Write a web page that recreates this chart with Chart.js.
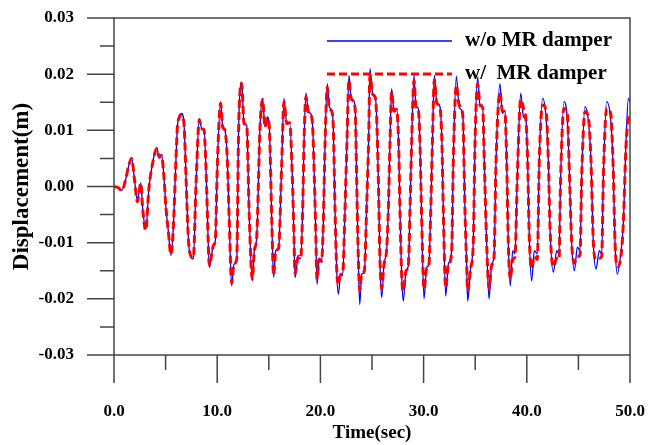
<!DOCTYPE html>
<html>
<head>
<meta charset="utf-8">
<script src="https://cdn.jsdelivr.net/npm/chart.js@4.4.1/dist/chart.umd.min.js"></script>
<style>
  body { margin: 0; background: #fff; }
  canvas { display: block; }
</style>
</head>
<body>
<canvas id="dispChart" width="665" height="445"></canvas>
<script>
// DADOS (um ciclo por linha)
const timeSec = [
  0.0, 0.4, 0.75, 1.1, 1.4, 1.7, 2.0, 2.26, 2.6, 2.77, 3.07, 3.4, 3.74, 4.13, 4.4, 4.6, 4.84, 5.03, 5.26, 5.52, 5.75,
  6.0, 6.17, 6.55, 6.78, 6.98, 7.14, 7.3, 7.69, 7.95, 8.27, 8.5, 8.72, 8.91, 9.04, 9.24, 9.47, 9.63, 9.82,
  10.0, 10.33, 10.53, 10.75, 10.97, 11.17, 11.4, 11.63, 11.89, 12.08, 12.37, 12.6, 12.86, 13.1, 13.4, 13.6, 13.83,
  14.15, 14.4, 14.63, 14.86, 15.05, 15.28, 15.47, 15.67, 15.95, 16.25, 16.47, 16.74, 17.02, 17.28, 17.44, 17.54, 17.86, 18.09,
  18.28, 18.41, 18.6, 18.83, 19.06, 19.25, 19.41, 19.54, 19.67, 19.89, 20.12, 20.28, 20.45, 20.67, 20.86, 21.09, 21.25, 21.42, 21.58, 21.74, 21.97, 22.16,
  22.38, 22.55, 22.77, 22.96, 23.19, 23.38, 23.51, 23.64, 23.81, 24.0, 24.26, 24.5, 24.68, 24.8, 25.07, 25.32, 25.45, 25.61, 25.78, 25.94, 26.16, 26.41,
  26.58, 26.74, 26.9, 27.13, 27.39, 27.58, 27.71, 27.88, 28.03, 28.3, 28.52, 28.68, 28.84, 29.07, 29.26, 29.49, 29.65, 29.81, 30.04, 30.3, 30.52,
  30.69, 30.85, 31.04, 31.27, 31.59, 31.78, 31.91, 32.14, 32.4, 32.72, 32.88, 33.17, 33.45, 33.79, 34.01, 34.17, 34.27, 34.56, 34.82,
  34.98, 35.24, 35.47, 35.73, 35.88, 36.11, 36.34, 36.6, 36.82, 37.02, 37.4, 37.63, 37.89, 38.05, 38.21, 38.4, 38.64, 38.86,
  39.08, 39.41, 39.67, 39.92, 40.08, 40.24, 40.47, 40.73, 41.02, 41.21, 41.54, 41.86, 42.09, 42.25, 42.57, 42.9, 43.12,
  43.28, 43.6, 43.93, 44.12, 44.35, 44.61, 44.9, 45.16, 45.32, 45.64, 45.96, 46.22, 46.45, 46.71, 47.03, 47.26,
  47.42, 47.74, 48.13, 48.38, 48.55, 48.77, 49.1, 49.35, 49.61, 49.84, 50.0
];

// w/o MR damper (azul)
const dispNoDamper = [
  0.0, -0.0002, -0.0007, 0.0010, 0.0035, 0.0052, 0.0010, -0.0025, 0.0006, -0.0037, -0.0076, 0.0000, 0.0041, 0.0069, 0.0052, 0.0057, 0.0017, -0.0037, -0.0079, -0.0123, -0.0073,
  0.0046, 0.0112, 0.0130, 0.0112, 0.0017, -0.0067, -0.0114, -0.0129, 0.0005, 0.0121, 0.0103, 0.0103, 0.0034, -0.0043, -0.0144, -0.0120, -0.0105, -0.0096,
  0.0029, 0.0151, 0.0106, 0.0100, 0.0052, -0.0061, -0.0177, -0.0138, -0.0132, 0.0106, 0.0186, 0.0112, 0.0109, -0.0049, -0.0168, -0.0114, -0.0090,
  0.0106, 0.0157, 0.0106, 0.0124, 0.0106, -0.0055, -0.0162, -0.0114, -0.0110, 0.0041, 0.0157, 0.0112, 0.0115, 0.0017, -0.0090, -0.0162, -0.0126, -0.0129,
  -0.0043, 0.0076, 0.0166, 0.0133, 0.0130, 0.0106, 0.0017, -0.0073, -0.0174, -0.0129, -0.0135, -0.0067, 0.0076, 0.0183, 0.0142, 0.0136, 0.0106, -0.0043, -0.0150, -0.0192, -0.0156, -0.0159,
  -0.0043, 0.0064, 0.0198, 0.0160, 0.0154, 0.0136, 0.0017, -0.0102, -0.0210, -0.0156, -0.0153, -0.0025, 0.0088, 0.0210, 0.0166, 0.0160, 0.0124, 0.0017, -0.0138, -0.0198, -0.0138, -0.0114,
  -0.0043, 0.0076, 0.0174, 0.0136, 0.0139, 0.0076, -0.0043, -0.0162, -0.0204, -0.0150, -0.0141, -0.0043, 0.0076, 0.0198, 0.0142, 0.0139, 0.0076, -0.0055, -0.0200, -0.0144, -0.0138,
  -0.0043, 0.0076, 0.0198, 0.0151, 0.0142, 0.0076, -0.0043, -0.0195, -0.0138, -0.0114, 0.0046, 0.0196, 0.0140, 0.0130, -0.0043, -0.0138, -0.0204, -0.0144, -0.0096,
  0.0076, 0.0195, 0.0142, 0.0145, 0.0046, -0.0102, -0.0200, -0.0138, -0.0126, 0.0046, 0.0183, 0.0130, 0.0136, 0.0046, -0.0102, -0.0177, -0.0114, -0.0120,
  0.0017, 0.0166, 0.0124, 0.0118, 0.0046, -0.0090, -0.0168, -0.0114, -0.0120, 0.0046, 0.0157, 0.0124, 0.0046, -0.0073, -0.0153, -0.0114, -0.0120,
  0.0017, 0.0151, 0.0118, 0.0029, -0.0102, -0.0150, -0.0108, -0.0114, 0.0017, 0.0142, 0.0118, 0.0046, -0.0102, -0.0147, -0.0114, -0.0120,
  0.0017, 0.0151, 0.0118, 0.0029, -0.0102, -0.0156, -0.0120, -0.0067, 0.0076, 0.0157, 0.0150
];

// w/ MR damper (vermelho tracejado)
const dispWithDamper = [
  0.0, -0.0002, -0.0007, 0.0010, 0.0035, 0.0050, 0.0010, -0.0027, 0.0006, -0.0037, -0.0078, 0.0000, 0.0041, 0.0067, 0.0052, 0.0055, 0.0017, -0.0037, -0.0079, -0.0121, -0.0073,
  0.0046, 0.0112, 0.0127, 0.0112, 0.0017, -0.0067, -0.0114, -0.0127, 0.0005, 0.0119, 0.0103, 0.0101, 0.0034, -0.0043, -0.0141, -0.0120, -0.0105, -0.0096,
  0.0029, 0.0148, 0.0106, 0.0100, 0.0052, -0.0061, -0.0172, -0.0138, -0.0130, 0.0106, 0.0184, 0.0112, 0.0109, -0.0049, -0.0165, -0.0114, -0.0090,
  0.0106, 0.0155, 0.0106, 0.0122, 0.0106, -0.0055, -0.0158, -0.0114, -0.0110, 0.0041, 0.0151, 0.0112, 0.0113, 0.0017, -0.0090, -0.0155, -0.0124, -0.0127,
  -0.0043, 0.0076, 0.0160, 0.0133, 0.0128, 0.0106, 0.0017, -0.0073, -0.0165, -0.0129, -0.0133, -0.0067, 0.0076, 0.0177, 0.0140, 0.0134, 0.0106, -0.0043, -0.0148, -0.0174, -0.0156, -0.0155,
  -0.0043, 0.0064, 0.0189, 0.0158, 0.0152, 0.0134, 0.0017, -0.0102, -0.0185, -0.0156, -0.0150, -0.0025, 0.0088, 0.0198, 0.0164, 0.0158, 0.0124, 0.0017, -0.0136, -0.0181, -0.0140, -0.0114,
  -0.0043, 0.0076, 0.0168, 0.0134, 0.0137, 0.0076, -0.0043, -0.0160, -0.0186, -0.0150, -0.0141, -0.0043, 0.0076, 0.0189, 0.0142, 0.0137, 0.0076, -0.0055, -0.0183, -0.0146, -0.0138,
  -0.0043, 0.0076, 0.0190, 0.0149, 0.0140, 0.0076, -0.0043, -0.0180, -0.0140, -0.0116, 0.0046, 0.0180, 0.0145, 0.0128, -0.0043, -0.0138, -0.0186, -0.0146, -0.0098,
  0.0076, 0.0183, 0.0145, 0.0140, 0.0046, -0.0102, -0.0181, -0.0140, -0.0128, 0.0046, 0.0168, 0.0135, 0.0130, 0.0046, -0.0102, -0.0165, -0.0130, -0.0125,
  0.0017, 0.0155, 0.0140, 0.0118, 0.0046, -0.0090, -0.0146, -0.0125, -0.0130, 0.0046, 0.0145, 0.0135, 0.0046, -0.0073, -0.0143, -0.0128, -0.0130,
  0.0017, 0.0139, 0.0128, 0.0029, -0.0100, -0.0136, -0.0125, -0.0122, 0.0017, 0.0133, 0.0125, 0.0046, -0.0100, -0.0130, -0.0128, -0.0125,
  0.0017, 0.0139, 0.0130, 0.0029, -0.0100, -0.0143, -0.0128, -0.0067, 0.0070, 0.0120, 0.0124
];

// EIXOS
const xMajorTicks = [0, 10, 20, 30, 40, 50];
const xMinorTicks = [5, 15, 25, 35, 45];
const yMajorTicks = [-0.03, -0.02, -0.01, 0, 0.01, 0.02, 0.03];
const yMinorTicks = [-0.025, -0.015, -0.005, 0.005, 0.015, 0.025];
const seriesNames = ['w/o MR damper', 'w/  MR damper'];

const serif = "'Liberation Serif', 'Times New Roman', serif";
const axisColor = '#444';

// sem folga extra para os rotulos nas pontas
function fixBox(s, w, h) {
    if (w) s.width = w;
    if (h) s.height = h;
    s.paddingTop = 0; s.paddingBottom = 0; s.paddingLeft = 0; s.paddingRight = 0;
}

// ticks grandes/pequenos + moldura + legenda
const framePlugin = {
    id: 'frame',
    afterDraw(chart) {
        const { ctx, chartArea: a, scales: { x, y } } = chart;
        ctx.save();
        ctx.strokeStyle = axisColor;
        ctx.lineWidth = 1.5;
        ctx.beginPath();
        yMajorTicks.forEach(v => { const p = y.getPixelForValue(v); ctx.moveTo(a.left - 27, p); ctx.lineTo(a.left, p); });
        yMinorTicks.forEach(v => { const p = y.getPixelForValue(v); ctx.moveTo(a.left - 14, p); ctx.lineTo(a.left, p); });
        xMajorTicks.forEach(v => { const p = x.getPixelForValue(v); ctx.moveTo(p, a.bottom); ctx.lineTo(p, a.bottom + 28); });
        xMinorTicks.forEach(v => { const p = x.getPixelForValue(v); ctx.moveTo(p, a.bottom); ctx.lineTo(p, a.bottom + 15); });
        ctx.stroke();
        ctx.strokeRect(a.left, a.top, a.right - a.left, a.bottom - a.top);

        // legenda
        const lx0 = a.left + 213, lx1 = a.left + 338, tx = a.left + 351;
        const rows = [a.top + 23, a.top + 56];
        ctx.lineWidth = 1.3;
        ctx.strokeStyle = '#0000ff';
        ctx.beginPath(); ctx.moveTo(lx0, rows[0]); ctx.lineTo(lx1, rows[0]); ctx.stroke();
        ctx.lineWidth = 3;
        ctx.strokeStyle = '#ff0000';
        ctx.setLineDash([8, 4]);
        ctx.beginPath(); ctx.moveTo(lx0, rows[1]); ctx.lineTo(lx1, rows[1]); ctx.stroke();
        ctx.setLineDash([]);
        ctx.fillStyle = '#000';
        ctx.font = 'bold 21px ' + serif;
        ctx.textBaseline = 'middle';
        ctx.textAlign = 'left';
        ctx.fillText(seriesNames[0], tx, rows[0]);
        ctx.fillText(seriesNames[1], tx, rows[1]);
        ctx.restore();
    }
};

new Chart(document.getElementById('dispChart'), {
    type: 'line',
    data: {
        datasets: [
            {
                label: seriesNames[0],
                data: timeSec.map((t, i) => ({ x: t, y: dispNoDamper[i] })),
                borderColor: '#0000ff',
                borderWidth: 1.3,
                pointRadius: 0,
                cubicInterpolationMode: 'monotone',
                order: 1
            },
            {
                label: seriesNames[1],
                data: timeSec.map((t, i) => ({ x: t, y: dispWithDamper[i] })),
                borderColor: '#ff0000',
                borderWidth: 3,
                borderDash: [8, 4],
                pointRadius: 0,
                cubicInterpolationMode: 'monotone',
                order: 0
            }
        ]
    },
    options: {
        responsive: false,
        animation: false,
        layout: { padding: { left: 0, top: 18, right: 35, bottom: 0 } },
        plugins: { legend: { display: false }, tooltip: { enabled: false } },
        scales: {
            x: {
                type: 'linear',
                min: 0, max: 50,
                afterBuildTicks: s => { s.ticks = xMajorTicks.map(v => ({ value: v })); },
                afterFit: s => fixBox(s, 0, 90),
                grid: { display: false, drawTicks: false },
                border: { display: false },
                ticks: {
                    padding: 46,
                    maxRotation: 0,
                    color: '#000',
                    font: { family: serif, size: 17, weight: 'bold' },
                    callback: v => v.toFixed(1)
                },
                title: {
                    display: true, text: 'Time(sec)', color: '#000',
                    font: { family: serif, size: 19, weight: 'bold' },
                    padding: { top: 0, bottom: 1 }
                }
            },
            y: {
                min: -0.03, max: 0.03,
                afterBuildTicks: s => { s.ticks = yMajorTicks.map(v => ({ value: v })); },
                afterFit: s => fixBox(s, 114, 0),
                grid: { display: false, drawTicks: false },
                border: { display: false },
                ticks: {
                    padding: 40,
                    color: '#000',
                    font: { family: serif, size: 17, weight: 'bold' },
                    callback: v => v.toFixed(2)
                },
                title: {
                    display: true, text: 'Displacement(m)', color: '#000',
                    font: { family: serif, size: 23, weight: 'bold' },
                    padding: { top: 8, bottom: 0 }
                }
            }
        }
    },
    plugins: [framePlugin]
});
</script>
</body>
</html>
